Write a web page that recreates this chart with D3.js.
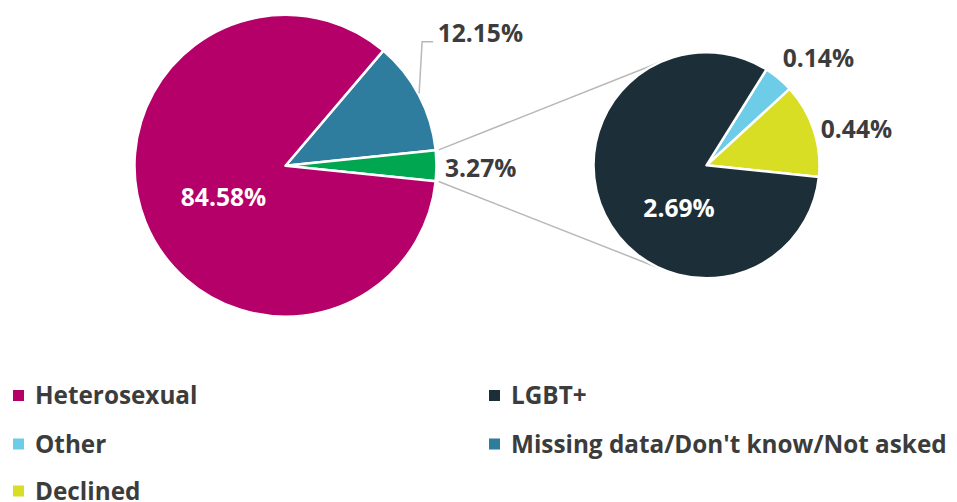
<!DOCTYPE html>
<html>
<head>
<meta charset="utf-8">
<script src="https://cdn.jsdelivr.net/npm/d3@7"></script>
<style>
  html, body { margin: 0; padding: 0; background: #ffffff; }
  svg { display: block; font-family: "Open Sans", "Noto Sans", sans-serif; }
</style>
</head>
<body>
<svg id="chart" width="957" height="502"></svg>
<script>
// ---- data ----
const mainCategories = ["Missing data/Don't know/Not asked", "Combined", "Heterosexual"];
const mainValues = [12.15, 3.27, 84.58];
const subCategories = ["Other", "Declined", "LGBT+"];
const subValues = [0.14, 0.44, 2.69];
const legendOrder = ["Heterosexual", "LGBT+", "Other", "Missing data/Don't know/Not asked", "Declined"];

const colors = {
  "Heterosexual": "#b5006a",
  "Missing data/Don't know/Not asked": "#2e7d9e",
  "Combined": "#00a650",
  "LGBT+": "#1c2f38",
  "Other": "#6dcde8",
  "Declined": "#d8de24"
};

const svg = d3.select("#chart");
const textColor = "#3c3c3c";
const fontSize = 24.6;

// ---- geometry ----
const main = { cx: 285.5, cy: 165.7, r: 151 };
const sub = { cx: 706.5, cy: 165.3, r: 113 };

const total = d3.sum(mainValues);
const combinedIdx = 1;
const startMain = Math.PI / 2 - (mainValues[combinedIdx] / total) * Math.PI - (mainValues[0] / total) * 2 * Math.PI;

const pieMain = d3.pie().sort(null).value(d => d.v)
  .startAngle(startMain).endAngle(startMain + 2 * Math.PI);
const mainData = pieMain(mainCategories.map((c, i) => ({ c, v: mainValues[i] })));

const arcMain = d3.arc().innerRadius(0).outerRadius(main.r);

const combinedArc = mainData[combinedIdx];
const subTotal = d3.sum(subValues);
const startSub = combinedArc.endAngle - ((subValues[0] + subValues[1]) / subTotal) * 2 * Math.PI;
const pieSub = d3.pie().sort(null).value(d => d.v)
  .startAngle(startSub).endAngle(startSub + 2 * Math.PI);
const subData = pieSub(subCategories.map((c, i) => ({ c, v: subValues[i] })));
const arcSub = d3.arc().innerRadius(0).outerRadius(sub.r);

// ---- connector lines between pies (tangent lines) ----
function polar(cx, cy, r, a) { return [cx + r * Math.sin(a), cy - r * Math.cos(a)]; }
const pTop = polar(main.cx, main.cy, main.r + 3, combinedArc.startAngle);
const pBot = polar(main.cx, main.cy, main.r + 3, combinedArc.endAngle);
function tangent(p, upper) {
  const dx = p[0] - sub.cx, dy = p[1] - sub.cy;
  const d = Math.hypot(dx, dy);
  const base = Math.atan2(dy, dx);
  const off = Math.acos(sub.r / d);
  const a = upper ? base + off : base - off;
  return [sub.cx + sub.r * Math.cos(a), sub.cy + sub.r * Math.sin(a)];
}
const tTop = tangent(pTop, true);
const tBot = tangent(pBot, false);
svg.append("g").selectAll("line").data([[pTop, tTop], [pBot, tBot]]).join("line")
  .attr("x1", d => d[0][0]).attr("y1", d => d[0][1])
  .attr("x2", d => d[1][0]).attr("y2", d => d[1][1])
  .attr("stroke", "#b8b8b8").attr("stroke-width", 1.5);

// ---- main pie ----
const gMain = svg.append("g").attr("transform", `translate(${main.cx},${main.cy})`);
gMain.selectAll("path").data(mainData).join("path")
  .attr("d", arcMain)
  .attr("fill", d => colors[d.data.c])
  .attr("stroke", "#ffffff").attr("stroke-width", 2.5).attr("stroke-linejoin", "round");

// ---- sub pie ----
const gSub = svg.append("g").attr("transform", `translate(${sub.cx},${sub.cy})`);
gSub.selectAll("path").data(subData).join("path")
  .attr("d", arcSub)
  .attr("fill", d => colors[d.data.c])
  .attr("stroke", "#ffffff").attr("stroke-width", 2.5).attr("stroke-linejoin", "round");

const fmt = v => v.toFixed(2) + "%";

// inside labels
gMain.append("text").text(fmt(mainValues[2]))
  .attr("x", -62).attr("y", 40)
  .attr("text-anchor", "middle").attr("font-size", fontSize).attr("font-weight", 700).attr("fill", "#ffffff");
gSub.append("text").text(fmt(subValues[2]))
  .attr("x", -27.5).attr("y", 51.5)
  .attr("text-anchor", "middle").attr("font-size", fontSize).attr("font-weight", 700).attr("fill", "#ffffff");

// 12.15% label with connector
const missArc = mainData[0];
const mid = (missArc.startAngle + missArc.endAngle) / 2;
const mp = polar(0, 0, main.r, mid);
const labelY = 41.7 - main.cy;
const cp = [mp[0] + 3, labelY];
gMain.append("path")
  .attr("d", `M${mp[0]},${mp[1] - 2}L${cp[0]},${cp[1]}L${cp[0] + 11},${cp[1]}`)
  .attr("fill", "none").attr("stroke", "#b8b8b8").attr("stroke-width", 1.5);
gMain.append("text").text(fmt(mainValues[0]))
  .attr("x", cp[0] + 15.5).attr("y", cp[1])
  .attr("font-size", fontSize).attr("font-weight", 700).attr("fill", textColor);

// 3.27% label
const cmid = (combinedArc.startAngle + combinedArc.endAngle) / 2;
const cpnt = polar(0, 0, main.r, cmid);
gMain.append("text").text(fmt(mainValues[1]))
  .attr("x", cpnt[0] + 8.5).attr("y", cpnt[1] + 11.5)
  .attr("font-size", fontSize).attr("font-weight", 700).attr("fill", textColor);

// sub outside labels
const subOffsets = { "Other": [4, -11], "Declined": [7, 8.5] };
subData.filter(d => subOffsets[d.data.c]).forEach(d => {
  const m = (d.startAngle + d.endAngle) / 2;
  const p = polar(0, 0, sub.r, m);
  const o = subOffsets[d.data.c];
  gSub.append("text").text(fmt(d.data.v))
    .attr("x", p[0] + o[0]).attr("y", p[1] + o[1])
    .attr("font-size", fontSize).attr("font-weight", 700).attr("fill", textColor);
});

// ---- legend ----
const legX = [13, 489];
const legY = [404, 452.5, 499.5];
const leg = svg.append("g");
legendOrder.forEach((name, i) => {
  const col = i % 2, row = Math.floor(i / 2);
  const x = legX[col], y = legY[row];
  leg.append("rect").attr("x", x).attr("y", y - 14).attr("width", 11).attr("height", 11)
    .attr("fill", colors[name]);
  leg.append("text").text(name).attr("x", x + 22).attr("y", y)
    .attr("font-size", 24.3).attr("font-weight", 700).attr("fill", textColor);
});
</script>
</body>
</html>
